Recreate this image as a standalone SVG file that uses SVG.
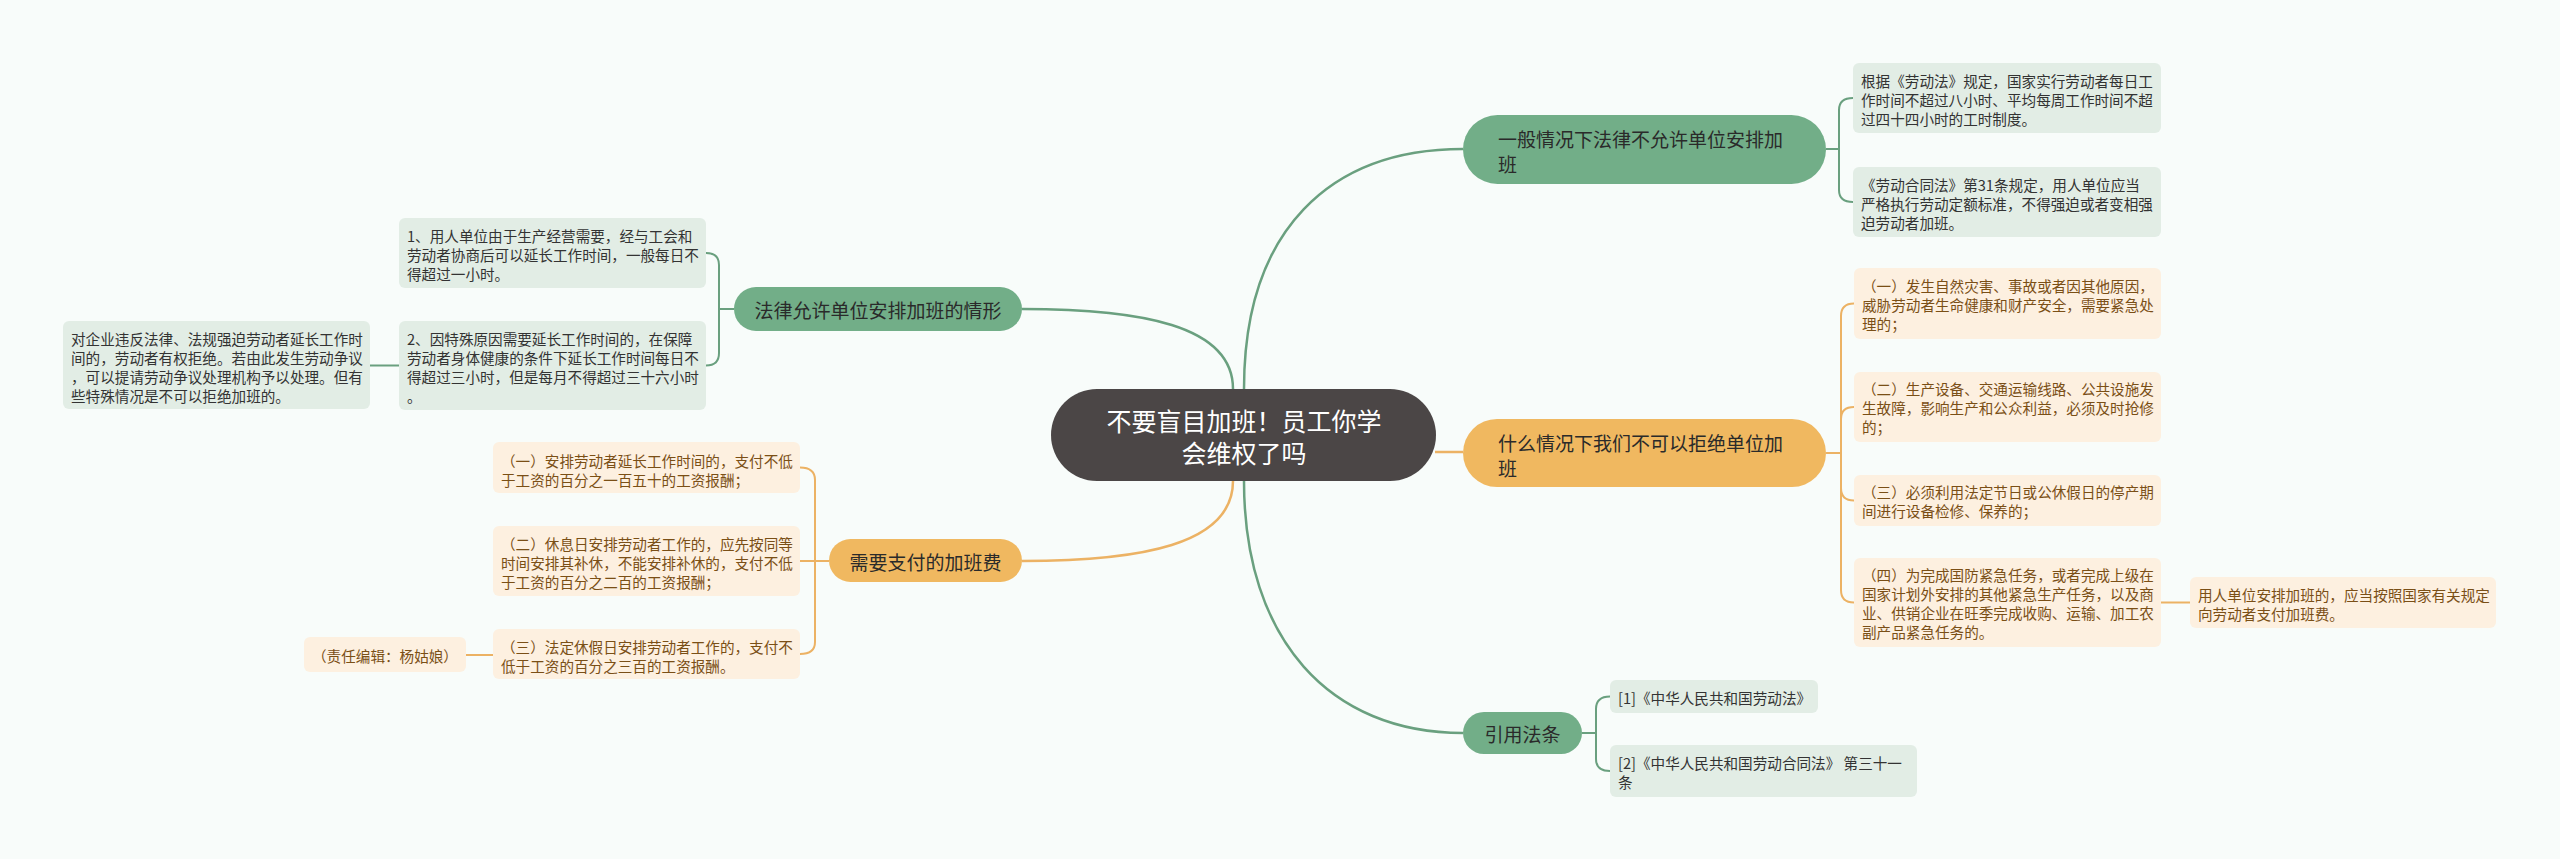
<svg xmlns="http://www.w3.org/2000/svg" width="2560" height="859" viewBox="0 0 2560 859">
<style>
text{font-family:"Noto Sans CJK SC","Liberation Sans",sans-serif;dominant-baseline:central}
.bg{fill:#f8fcfa}
.root{fill:#4b4646}
.rt{fill:#ffffff;font-size:25px}
.gn{fill:#72ae88}
.on{fill:#f0b860}
.nt{fill:#2a2a2a;font-size:19px}
.gl{fill:#e2ede5}
.ol{fill:#fdf0e0}
.glt{fill:#333333;font-size:14.6px}
.olt{fill:#7a4f16;font-size:14.6px}
.gs{fill:none;stroke:#6aa07f;stroke-width:2.5}
.os{fill:none;stroke:#ecb264;stroke-width:2.5}
.gb{fill:none;stroke:#6aa07f;stroke-width:2}
.ob{fill:none;stroke:#ecb264;stroke-width:2}
</style>
<rect class="bg" x="0" y="0" width="2560" height="859"/>
<g id="connectors">
<path class="gs" d="M1244,389 C1244,230 1330,149 1463,149"/>
<path class="os" d="M1435,452 L1463,452"/>
<path class="gs" d="M1244,481 C1244,640 1330,733 1463,733"/>
<path class="gs" d="M1233,389 C1233,325 1140,309 1022,309"/>
<path class="os" d="M1233,481 C1233,545 1140,561 1022,561"/>
<path class="gb" d="M1826,149 H1839 V110 Q1839,98 1853,98"/>
<path class="gb" d="M1826,149 H1839 V190 Q1839,202 1853,202"/>
<path class="ob" d="M1826,453 H1841 V316 Q1841,303.5 1854,303.5"/>
<path class="ob" d="M1826,453 H1841 V419 Q1841,407 1854,407"/>
<path class="ob" d="M1826,453 H1841 V488 Q1841,500.5 1854,500.5"/>
<path class="ob" d="M1826,453 H1841 V590 Q1841,602.5 1854,602.5"/>
<path class="ob" d="M2161,602.5 H2190"/>
<path class="gb" d="M1582,733 H1596 V709 Q1596,696.5 1610,696.5"/>
<path class="gb" d="M1582,733 H1596 V759 Q1596,771 1610,771"/>
<path class="gb" d="M734,309 H719 V265 Q719,253 706,253"/>
<path class="gb" d="M734,309 H719 V353 Q719,365.5 706,365.5"/>
<path class="gb" d="M399,365.5 H370"/>
<path class="ob" d="M829,561 H815 V480 Q815,467.5 800,467.5"/>
<path class="ob" d="M829,561 H800"/>
<path class="ob" d="M829,561 H815 V642 Q815,654 800,654"/>
<path class="ob" d="M493,655 H466"/>
</g>
<g id="root">
<rect class="root" x="1051" y="389" width="385" height="92" rx="46"/>
<text class="rt" text-anchor="middle"><tspan x="1244" y="420">不要盲目加班！员工你学</tspan><tspan x="1244" y="452">会维权了吗</tspan></text>
</g>
<g id="n1">
<rect class="gn" x="1463" y="115" width="363" height="69" rx="34.5"/>
<text class="nt"><tspan x="1498" y="138">一般情况下法律不允许单位安排加</tspan><tspan x="1498" y="163">班</tspan></text>
</g>
<g id="n1c1">
<rect class="gl" x="1853" y="63" width="308" height="70" rx="6"/>
<text class="glt"><tspan x="1861" y="80">根据《劳动法》规定，国家实行劳动者每日工</tspan><tspan x="1861" y="99">作时间不超过八小时、平均每周工作时间不超</tspan><tspan x="1861" y="118">过四十四小时的工时制度。</tspan></text>
</g>
<g id="n1c2">
<rect class="gl" x="1853" y="167" width="308" height="70" rx="6"/>
<text class="glt"><tspan x="1861" y="184">《劳动合同法》第31条规定，用人单位应当</tspan><tspan x="1861" y="203">严格执行劳动定额标准，不得强迫或者变相强</tspan><tspan x="1861" y="222">迫劳动者加班。</tspan></text>
</g>
<g id="n2">
<rect class="on" x="1463" y="419" width="363" height="68" rx="34"/>
<text class="nt"><tspan x="1498" y="442">什么情况下我们不可以拒绝单位加</tspan><tspan x="1498" y="467">班</tspan></text>
</g>
<g id="n2c1">
<rect class="ol" x="1854" y="268" width="307" height="71" rx="6"/>
<text class="olt"><tspan x="1862" y="285">（一）发生自然灾害、事故或者因其他原因，</tspan><tspan x="1862" y="304">威胁劳动者生命健康和财产安全，需要紧急处</tspan><tspan x="1862" y="323">理的；</tspan></text>
</g>
<g id="n2c2">
<rect class="ol" x="1854" y="372" width="307" height="70" rx="6"/>
<text class="olt"><tspan x="1862" y="388">（二）生产设备、交通运输线路、公共设施发</tspan><tspan x="1862" y="407">生故障，影响生产和公众利益，必须及时抢修</tspan><tspan x="1862" y="426">的；</tspan></text>
</g>
<g id="n2c3">
<rect class="ol" x="1854" y="475" width="307" height="51" rx="6"/>
<text class="olt"><tspan x="1862" y="491">（三）必须利用法定节日或公休假日的停产期</tspan><tspan x="1862" y="510">间进行设备检修、保养的；</tspan></text>
</g>
<g id="n2c4">
<rect class="ol" x="1854" y="558" width="307" height="89" rx="6"/>
<text class="olt"><tspan x="1862" y="574">（四）为完成国防紧急任务，或者完成上级在</tspan><tspan x="1862" y="593">国家计划外安排的其他紧急生产任务，以及商</tspan><tspan x="1862" y="612">业、供销企业在旺季完成收购、运输、加工农</tspan><tspan x="1862" y="631">副产品紧急任务的。</tspan></text>
</g>
<g id="n2c4c1">
<rect class="ol" x="2190" y="577" width="306" height="51" rx="6"/>
<text class="olt"><tspan x="2198" y="594">用人单位安排加班的，应当按照国家有关规定</tspan><tspan x="2198" y="613">向劳动者支付加班费。</tspan></text>
</g>
<g id="n3">
<rect class="gn" x="1463" y="712" width="119" height="42" rx="21"/>
<text class="nt" x="1522.5" y="733" text-anchor="middle">引用法条</text>
</g>
<g id="n3c1">
<rect class="gl" x="1610" y="680" width="208" height="33" rx="6"/>
<text class="glt" x="1618" y="697">[1]《中华人民共和国劳动法》</text>
</g>
<g id="n3c2">
<rect class="gl" x="1610" y="745" width="307" height="52" rx="6"/>
<text class="glt"><tspan x="1618" y="762">[2]《中华人民共和国劳动合同法》 第三十一</tspan><tspan x="1618" y="781">条</tspan></text>
</g>
<g id="n4">
<rect class="gn" x="734" y="287" width="288" height="44" rx="22"/>
<text class="nt" x="878" y="309" text-anchor="middle">法律允许单位安排加班的情形</text>
</g>
<g id="n4c1">
<rect class="gl" x="399" y="218" width="307" height="70" rx="6"/>
<text class="glt"><tspan x="407" y="235">1、用人单位由于生产经营需要，经与工会和</tspan><tspan x="407" y="254">劳动者协商后可以延长工作时间，一般每日不</tspan><tspan x="407" y="273">得超过一小时。</tspan></text>
</g>
<g id="n4c2">
<rect class="gl" x="399" y="321" width="307" height="89" rx="6"/>
<text class="glt"><tspan x="407" y="338">2、因特殊原因需要延长工作时间的，在保障</tspan><tspan x="407" y="357">劳动者身体健康的条件下延长工作时间每日不</tspan><tspan x="407" y="376">得超过三小时，但是每月不得超过三十六小时</tspan><tspan x="407" y="395">。</tspan></text>
</g>
<g id="n4c2c1">
<rect class="gl" x="63" y="321" width="307" height="88" rx="6"/>
<text class="glt"><tspan x="71" y="338">对企业违反法律、法规强迫劳动者延长工作时</tspan><tspan x="71" y="357">间的，劳动者有权拒绝。若由此发生劳动争议</tspan><tspan x="71" y="376">，可以提请劳动争议处理机构予以处理。但有</tspan><tspan x="71" y="395">些特殊情况是不可以拒绝加班的。</tspan></text>
</g>
<g id="n5">
<rect class="on" x="829" y="539" width="193" height="43" rx="21.5"/>
<text class="nt" x="925.5" y="561" text-anchor="middle">需要支付的加班费</text>
</g>
<g id="n5c1">
<rect class="ol" x="493" y="442" width="307" height="51" rx="6"/>
<text class="olt"><tspan x="501" y="460">（一）安排劳动者延长工作时间的，支付不低</tspan><tspan x="501" y="479">于工资的百分之一百五十的工资报酬；</tspan></text>
</g>
<g id="n5c2">
<rect class="ol" x="493" y="526" width="307" height="70" rx="6"/>
<text class="olt"><tspan x="501" y="543">（二）休息日安排劳动者工作的，应先按同等</tspan><tspan x="501" y="562">时间安排其补休，不能安排补休的，支付不低</tspan><tspan x="501" y="581">于工资的百分之二百的工资报酬；</tspan></text>
</g>
<g id="n5c3">
<rect class="ol" x="493" y="629" width="307" height="50" rx="6"/>
<text class="olt"><tspan x="501" y="646">（三）法定休假日安排劳动者工作的，支付不</tspan><tspan x="501" y="665">低于工资的百分之三百的工资报酬。</tspan></text>
</g>
<g id="n5c3c1">
<rect class="ol" x="304" y="637" width="162" height="35" rx="6"/>
<text class="olt" x="312" y="655">（责任编辑：杨姑娘）</text>
</g>
</svg>
